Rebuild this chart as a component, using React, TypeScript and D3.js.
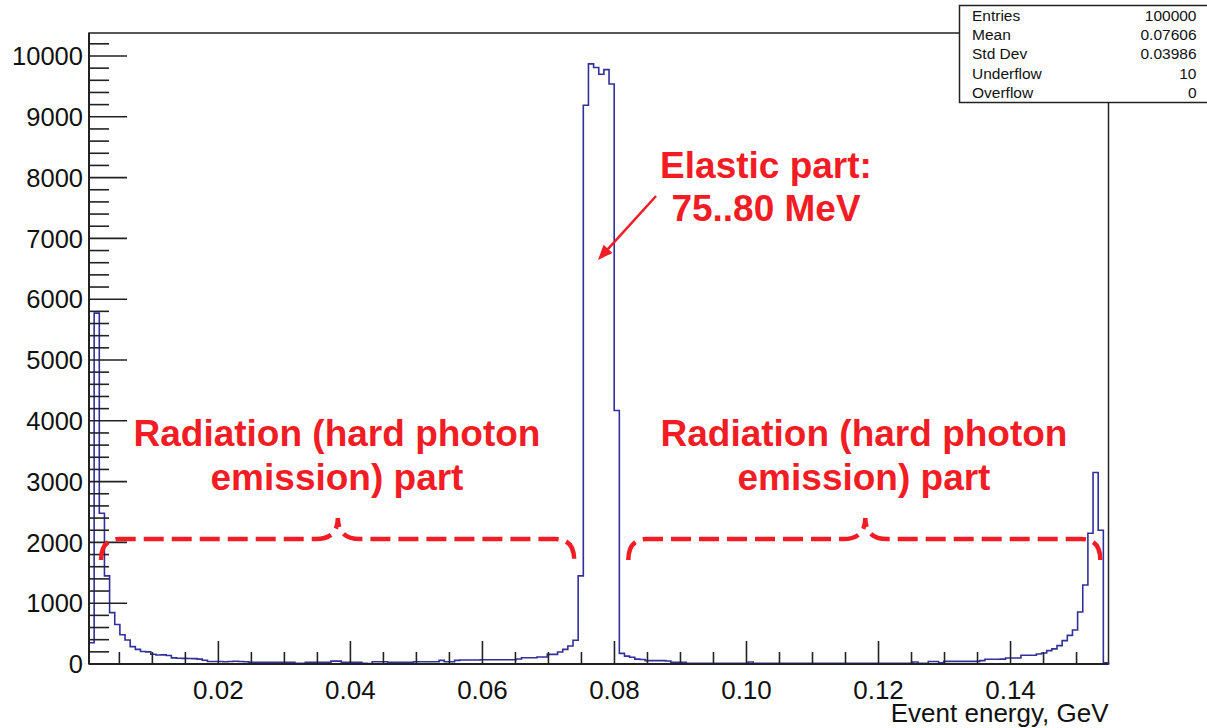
import React from "react";
import * as d3 from "d3";

// histogram binning (GeV)
const binStart = 0.0004;
const binWidth = 0.00078;

// bin contents
const counts = [
  350, 5770, 2480, 1450, 845, 650, 480, 395, 285, 240,
  205, 200, 160, 148, 150, 140, 100, 95, 93, 90,
  88, 80, 62, 40, 40, 40, 38, 40, 45, 40,
  38, 30, 28, 28, 27, 27, 28, 27, 27, 27,
  12, 11, 27, 27, 27, 27, 27, 48, 48, 27,
  27, 27, 27, 11, 8, 38, 38, 38, 27, 27,
  27, 27, 27, 38, 38, 38, 38, 38, 60, 38,
  38, 60, 66, 66, 66, 66, 71, 71, 71, 71,
  71, 71, 71, 82, 104, 104, 104, 115, 115, 159,
  159, 197, 241, 296, 390, 1450, 9190, 9870, 9810, 9700,
  9775, 9540, 4170, 175, 130, 110, 80, 75, 55, 55,
  55, 55, 50, 30, 27, 27, 12, 11, 12, 11,
  11, 12, 11, 11, 12, 11, 11, 12, 33, 11,
  11, 12, 11, 11, 12, 11, 11, 12, 11, 11,
  12, 11, 11, 12, 11, 11, 12, 11, 11, 12,
  11, 11, 12, 11, 11, 12, 11, 11, 11, 12,
  33, 12, 12, 40, 40, 20, 44, 44, 44, 44,
  44, 44, 44, 55, 77, 77, 77, 80, 99, 99,
  99, 143, 143, 143, 164, 181, 220, 249, 302, 384,
  470, 560, 855, 1300, 2150, 3150, 2200, 20,
];

const yMax = 10378;
const xMajorTicks = [0.02, 0.04, 0.06, 0.08, 0.1, 0.12, 0.14];
const xTickLabels = ["0.02", "0.04", "0.06", "0.08", "0.10", "0.12", "0.14"];
const yMajorTicks = [0, 1000, 2000, 3000, 4000, 5000, 6000, 7000, 8000, 9000, 10000];
const yTickLabels = ["0", "1000", "2000", "3000", "4000", "5000", "6000", "7000", "8000", "9000", "10000"];
const xTitle = "Event energy, GeV";

const statNames = ["Entries", "Mean", "Std Dev", "Underflow", "Overflow"];
const statValues = ["100000", "0.07606", "0.03986", "10", "0"];

// braces: [left end, cusp, right end] in GeV, levels in counts
const braces = [
  [0.00222, 0.0381, 0.0739],
  [0.0821, 0.118, 0.1536],
];
const braceLevel = 2056;
const braceEnd = 1710;
const braceTip = 2401;

const W = 1207;
const H = 728;
const frame = { left: 89, right: 1108.5, top: 33, bottom: 664 };
const font = "'Liberation Sans', Arial, Helvetica, sans-serif";
const red = "#f21c24";
const histColor = "#30309a";

const App = () => {
  const xEnd = binStart + counts.length * binWidth;
  const x = d3.scaleLinear().domain([binStart, xEnd]).range([frame.left, frame.right]);
  const y = d3.scaleLinear().domain([0, yMax]).range([frame.bottom, frame.top]);

  const pts: [number, number][] = [[binStart, 0]];
  counts.forEach((c, i) => {
    const lo = binStart + i * binWidth;
    pts.push([lo, c], [lo + binWidth, c]);
  });
  pts.push([xEnd, 0]);
  const line = d3
    .line<[number, number]>()
    .x((d) => x(d[0]))
    .y((d) => y(d[1]));

  const xMinor = d3
    .range(1, 31)
    .map((i) => i * 0.005)
    .filter((v) => Math.abs(v / 0.02 - Math.round(v / 0.02)) > 1e-6 && v < xEnd);
  const yMinor = d3
    .range(1, 52)
    .map((i) => i * 200)
    .filter((v) => v % 1000 !== 0 && v < yMax);

  const bracePath = (b: number[]) => {
    const [l, c, r] = b.map((v) => x(v));
    const yb = y(braceLevel);
    const ye = y(braceEnd);
    const yt = y(braceTip);
    return (
      `M${l},${ye} Q${l},${yb} ${l + 19},${yb} H${c - 22} ` +
      `Q${c},${yb} ${c},${yt} Q${c},${yb} ${c + 22},${yb} ` +
      `H${r - 19} Q${r},${yb} ${r},${ye}`
    );
  };

  const ax0 = x(0.0863), ay0 = y(7697);
  const ax1 = x(0.0775), ay1 = y(6645);
  const ang = Math.atan2(ay1 - ay0, ax1 - ax0);
  const hl = 15, hw = 6;
  const head = [
    [ax1, ay1],
    [ax1 - hl * Math.cos(ang) + hw * Math.sin(ang), ay1 - hl * Math.sin(ang) - hw * Math.cos(ang)],
    [ax1 - hl * Math.cos(ang) - hw * Math.sin(ang), ay1 - hl * Math.sin(ang) + hw * Math.cos(ang)],
  ]
    .map((p) => p.join(","))
    .join(" ");

  return (
    <svg
      width={W}
      height={H}
      style={{ position: "absolute", left: 0, top: 0, background: "#fff" }}
      fontFamily={font}
    >
      <rect x={0} y={0} width={W} height={H} fill="#fff" />

      {/* frame */}
      <rect
        x={frame.left}
        y={frame.top}
        width={frame.right - frame.left}
        height={frame.bottom - frame.top}
        fill="none"
        stroke="#222"
        strokeWidth={1.5}
      />

      {/* histogram */}
      <path d={line(pts) || ""} fill="none" stroke={histColor} strokeWidth={1.6} />

      {/* y axis */}
      <line x1={frame.left} x2={frame.left} y1={frame.top} y2={frame.bottom} stroke="#222" strokeWidth={2} />
      {yMajorTicks.map((v, i) => (
        <g key={"ym" + v}>
          <line x1={frame.left} x2={frame.left + 38} y1={y(v)} y2={y(v)} stroke="#222" strokeWidth={1.6} />
          <text x={83} y={y(v)} dy="0.36em" textAnchor="end" fontSize={25.5} fill="#111">
            {yTickLabels[i]}
          </text>
        </g>
      ))}
      {yMinor.map((v) => (
        <line key={"yn" + v} x1={frame.left} x2={frame.left + 20} y1={y(v)} y2={y(v)} stroke="#222" strokeWidth={1.6} />
      ))}

      {/* x axis */}
      <line x1={frame.left} x2={frame.right} y1={frame.bottom} y2={frame.bottom} stroke="#222" strokeWidth={2} />
      {xMajorTicks.map((v, i) => (
        <g key={"xm" + v}>
          <line x1={x(v)} x2={x(v)} y1={frame.bottom} y2={frame.bottom - 23} stroke="#222" strokeWidth={1.6} />
          <text x={x(v)} y={699} textAnchor="middle" fontSize={26} fill="#111">
            {xTickLabels[i]}
          </text>
        </g>
      ))}
      {xMinor.map((v) => (
        <line key={"xn" + v} x1={x(v)} x2={x(v)} y1={frame.bottom} y2={frame.bottom - 12} stroke="#222" strokeWidth={1.6} />
      ))}
      <text x={frame.right} y={722} textAnchor="end" fontSize={26} fill="#111">
        {xTitle}
      </text>

      {/* stats box */}
      <rect x={959.5} y={5.5} width={W - 958} height={97} fill="#fff" stroke="#222" strokeWidth={1.5} />
      {statNames.map((n, i) => (
        <g key={n}>
          <text x={972} y={21 + i * 19.2} fontSize={15.5} fill="#111">
            {n}
          </text>
          <text x={1196.5} y={21 + i * 19.2} fontSize={15.5} fill="#111" textAnchor="end">
            {statValues[i]}
          </text>
        </g>
      ))}

      {/* annotations */}
      {braces.map((b, i) => (
        <path
          key={"br" + i}
          d={bracePath(b)}
          fill="none"
          stroke={red}
          strokeWidth={4.5}
          strokeDasharray="20 8"
        />
      ))}
      <line x1={ax0} y1={ay0} x2={ax1 - 10 * Math.cos(ang)} y2={ay1 - 10 * Math.sin(ang)} stroke={red} strokeWidth={2.5} />
      <polygon points={head} fill={red} />

      <g fill={red} fontWeight="bold" fontSize={37} textAnchor="middle">
        <text x={766} y={178}>Elastic part:</text>
        <text x={766} y={221}>75..80 MeV</text>
        <text x={337} y={446}>Radiation (hard photon</text>
        <text x={337} y={490}>emission) part</text>
        <text x={864} y={446}>Radiation (hard photon</text>
        <text x={864} y={490}>emission) part</text>
      </g>
    </svg>
  );
};

export default App;
